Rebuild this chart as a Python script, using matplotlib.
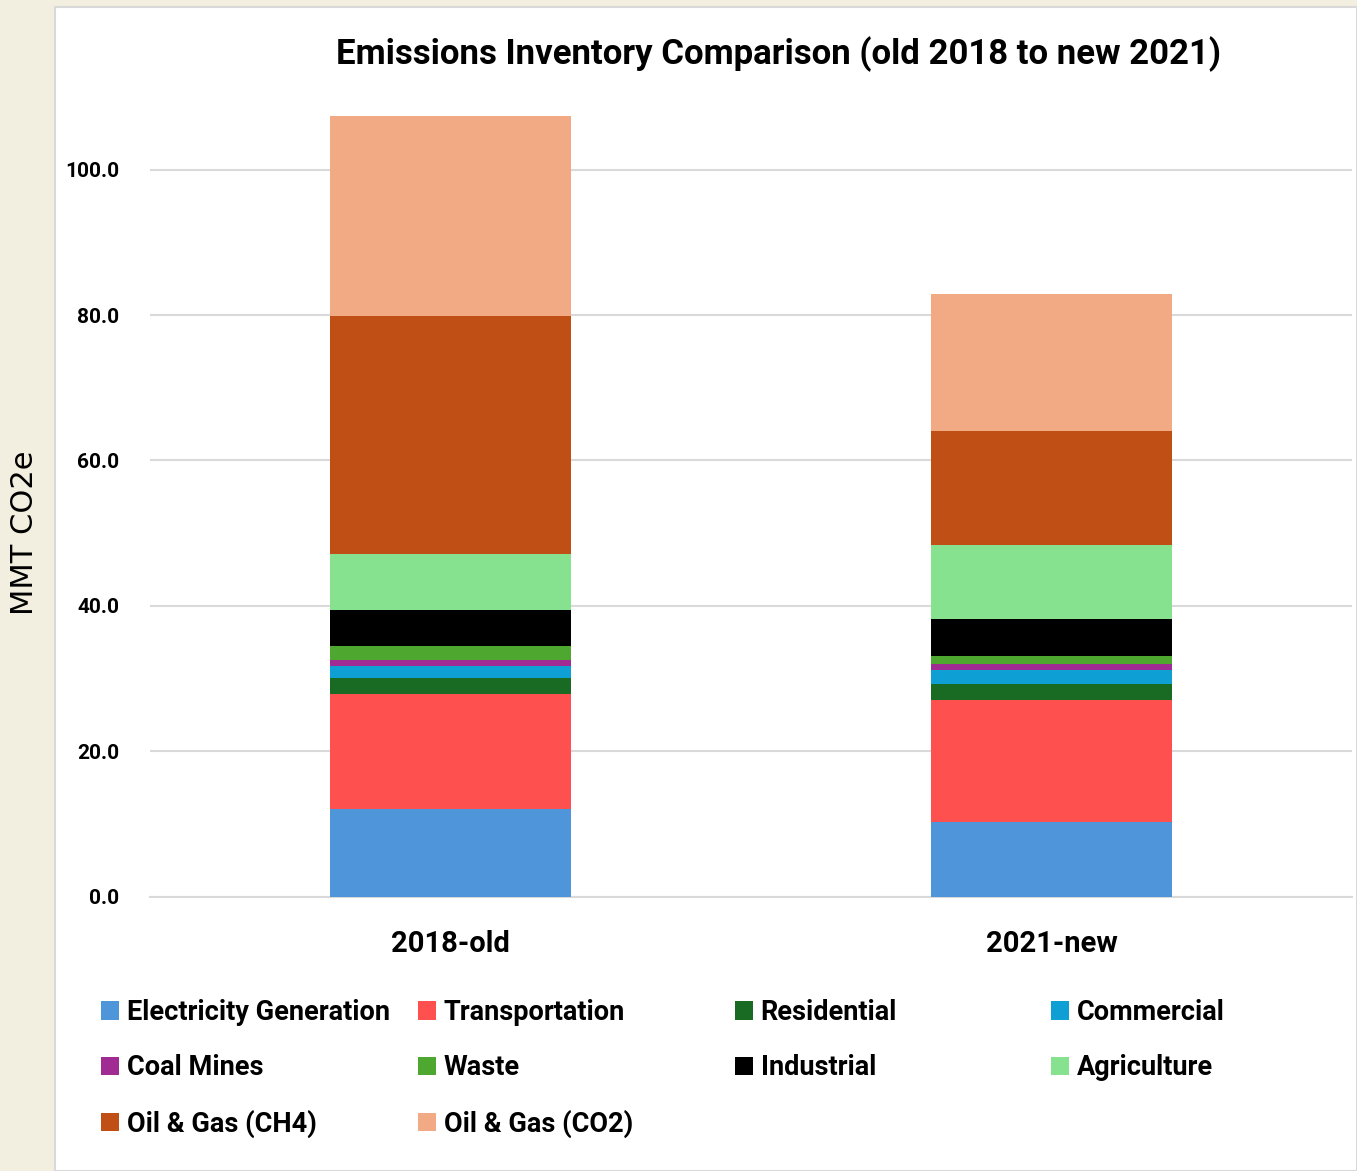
import matplotlib
matplotlib.use("Agg")
import matplotlib.pyplot as plt
from matplotlib.patches import Rectangle, Patch

categories = ["2018-old", "2021-new"]
sectors = ["Electricity Generation", "Transportation", "Residential", "Commercial",
           "Coal Mines", "Waste", "Industrial", "Agriculture",
           "Oil & Gas (CH4)", "Oil & Gas (CO2)"]
electricity = [12.0, 10.2]
transportation = [15.8, 16.8]
residential = [2.2, 2.3]
commercial = [1.7, 1.8]
coal_mines = [0.9, 0.9]
waste = [1.9, 1.1]
industrial = [4.9, 5.1]
agriculture = [7.7, 10.2]
oil_gas_ch4 = [32.7, 15.6]
oil_gas_co2 = [27.6, 18.9]
series = [electricity, transportation, residential, commercial, coal_mines,
          waste, industrial, agriculture, oil_gas_ch4, oil_gas_co2]
colors = ["#4f95d9", "#ff5050", "#196b24", "#0e9fd5", "#a02b93",
          "#4ea72e", "#000000", "#87e290", "#c04f15", "#f2aa84"]
yticks = [0, 20, 40, 60, 80, 100]

fam = ["Roboto", "DejaVu Sans"]
plt.rcParams["font.family"] = fam

W, H = 1357, 1171
fig = plt.figure(figsize=(W / 100, H / 100), dpi=100)
fig.patch.set_facecolor("#f3efe0")
panel = Rectangle((55 / W, 0), 1 - 55 / W, 1 - 7 / H, transform=fig.transFigure,
                  facecolor="white", edgecolor="#d9d9d9", linewidth=1.5, zorder=-5)
fig.patches.append(panel)

ax = fig.add_axes([150 / W, (H - 896.5) / H, 1202 / W, (896.5 - 97) / H])
ax.set_zorder(2)
ax.set_facecolor("none")
x = list(range(len(categories)))
bottom = [0.0] * len(categories)
handles = []
for name, vals, c in zip(sectors, series, colors):
    ax.bar(x, vals, width=0.4, bottom=bottom, color=c, edgecolor="none",
           label=name, zorder=3)
    bottom = [b + v for b, v in zip(bottom, vals)]
    handles.append(Patch(facecolor=c, edgecolor="none", label=name))

ax.set_xlim(-0.5, 1.5)
ax.set_ylim(0, 110)
ax.set_yticks(yticks)
ax.set_yticklabels([f"{v:.1f}" for v in yticks], fontsize=15, fontweight="bold")
ax.set_xticks(x)
ax.set_xticklabels(categories, fontsize=21, fontweight="bold")
ax.tick_params(axis="y", length=0, pad=22)
ax.tick_params(axis="x", length=0, pad=24)
ax.grid(axis="y", color="#d9d9d9", linewidth=1.5, zorder=0)
for s in ["top", "right", "left"]:
    ax.spines[s].set_visible(False)
ax.spines["bottom"].set_color("#d9d9d9")
ax.spines["bottom"].set_linewidth(1.5)

fig.text(779 / W, 1 - 54 / H, "Emissions Inventory Comparison (old 2018 to new 2021)",
         ha="center", va="center", fontsize=25, fontweight="bold")
fig.text(25 / W, 1 - 533 / H, "MMT CO2e", rotation=90, ha="center", va="center",
         fontsize=22, family=["DejaVu Sans"])

# legend: 4 columns, row-wise order
col_x = [101, 418, 735, 1051]
for ci in range(4):
    hs = handles[ci::4]
    leg = fig.legend(handles=hs, loc="upper left",
                     bbox_to_anchor=(col_x[ci] / W, 1 - 999 / H),
                     frameon=False, ncol=1, fontsize=19.5,
                     handlelength=0.65, handleheight=0.65, handletextpad=0.3,
                     labelspacing=1.05, borderpad=0, borderaxespad=0)
    for t in leg.get_texts():
        t.set_fontweight("bold")

fig.savefig("out.png", dpi=100, facecolor=fig.get_facecolor())
